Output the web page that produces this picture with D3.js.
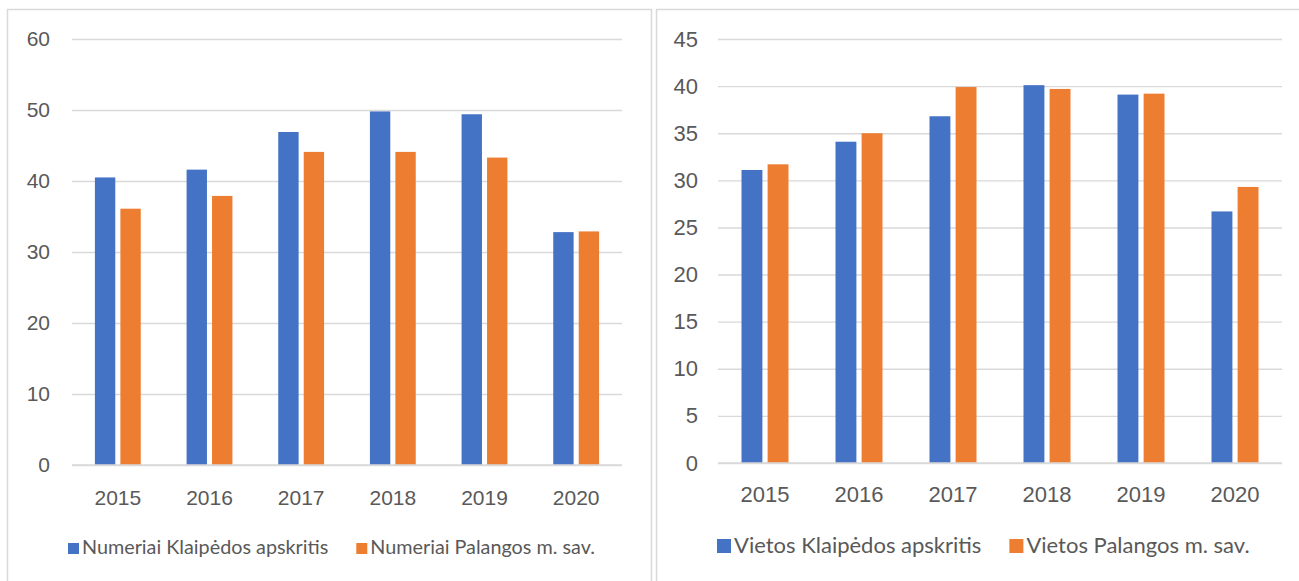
<!DOCTYPE html>
<html>
<head>
<meta charset="utf-8">
<script src="https://cdn.jsdelivr.net/npm/d3@7"></script>
<style>
  body { margin: 0; background: #fff; }
  svg { display: block; font-family: Lato, "Open Sans", sans-serif; }
  .tick text { fill: #595959; }
  .legend text { fill: #595959; }
</style>
</head>
<body>
<svg width="1299" height="581"></svg>
<script>
const years = ['2015', '2016', '2017', '2018', '2019', '2020'];

const numeriaiKlaipeda = [40.5, 41.6, 46.9, 49.8, 49.4, 32.8];
const numeriaiPalanga = [36.1, 37.9, 44.1, 44.1, 43.3, 32.9];
const vietosKlaipeda = [31.1, 34.1, 36.8, 40.1, 39.1, 26.7];
const vietosPalanga = [31.7, 35.0, 39.9, 39.7, 39.2, 29.3];

const leftTicks = [0, 10, 20, 30, 40, 50, 60];
const rightTicks = [0, 5, 10, 15, 20, 25, 30, 35, 40, 45];

const leftNames = ['Numeriai Klaipėdos apskritis', 'Numeriai Palangos m. sav.'];
const rightNames = ['Vietos Klaipėdos apskritis', 'Vietos Palangos m. sav.'];

const colors = ['#4472C4', '#ED7D31'];

const svg = d3.select('svg');

// panel frames
svg.append('rect')
    .attr('x', 7.5).attr('y', 9.5)
    .attr('width', 644).attr('height', 600)
    .attr('fill', 'none').attr('stroke', '#d9d9d9').attr('stroke-width', 1.5);
svg.append('rect')
    .attr('x', 656.5).attr('y', 9.5)
    .attr('width', 650).attr('height', 600)
    .attr('fill', 'none').attr('stroke', '#d9d9d9').attr('stroke-width', 1.5);

function drawChart(opt) {
    const g = svg.append('g');

    const xScale = d3.scaleBand()
        .domain(years)
        .range([opt.x0, opt.x1])
        .paddingInner(0.5)
        .paddingOuter(0.25);

    const xSub = d3.scaleBand()
        .domain([0, 1])
        .range([0, xScale.bandwidth()])
        .paddingInner(0.2);

    const yScale = d3.scaleLinear()
        .domain([0, d3.max(opt.ticks)])
        .range([opt.y0, opt.y1]);

    const yAxis = d3.axisLeft(yScale)
        .tickValues(opt.ticks)
        .tickSize(-(opt.x1 - opt.x0))
        .tickPadding(opt.yPad);

    const yAxisG = g.append('g')
        .attr('transform', `translate(${opt.x0},0)`)
        .call(yAxis);
    yAxisG.select('.domain').remove();
    yAxisG.selectAll('.tick line')
        .attr('stroke', '#d9d9d9')
        .attr('stroke-width', 1.4);
    yAxisG.selectAll('.tick text')
        .attr('font-size', opt.fontSize);

    const xAxis = d3.axisBottom(xScale)
        .tickSize(0)
        .tickPadding(opt.xPad);

    const xAxisG = g.append('g')
        .attr('transform', `translate(0,${opt.y0})`)
        .call(xAxis);
    xAxisG.select('.domain').remove();
    xAxisG.selectAll('.tick text')
        .attr('font-size', opt.fontSize);

    const rows = years.map((y, i) => ({ year: y, values: [opt.a[i], opt.b[i]] }));

    const groups = g.selectAll('.year').data(rows)
        .enter().append('g')
        .attr('class', 'year')
        .attr('transform', d => `translate(${xScale(d.year)},0)`);

    groups.selectAll('rect')
        .data(d => d.values.map((v, k) => ({ k: k, v: v })))
        .enter().append('rect')
        .attr('x', d => xSub(d.k))
        .attr('width', xSub.bandwidth())
        .attr('y', d => yScale(d.v))
        .attr('height', d => opt.y0 - yScale(d.v))
        .attr('fill', d => colors[d.k]);

    // baseline over the bars
    g.append('line')
        .attr('x1', opt.x0).attr('x2', opt.x1)
        .attr('y1', opt.y0).attr('y2', opt.y0)
        .attr('stroke', '#d9d9d9').attr('stroke-width', 1.4);

    // legend
    const legend = g.append('g').attr('class', 'legend');
    let lx = opt.legendX;
    opt.names.forEach((name, k) => {
        legend.append('rect')
            .attr('x', lx).attr('y', opt.legendY - opt.box)
            .attr('width', opt.box).attr('height', opt.box)
            .attr('fill', colors[k]);
        const t = legend.append('text')
            .attr('x', lx + opt.box + 3)
            .attr('y', opt.legendY)
            .attr('font-size', opt.legendSize)
            .text(name);
        lx += opt.box + 3 + t.node().getComputedTextLength() + 28;
    });
}

drawChart({
    x0: 72, x1: 622, y0: 465, y1: 39,
    ticks: leftTicks, a: numeriaiKlaipeda, b: numeriaiPalanga,
    names: leftNames, fontSize: 21, yPad: 22, xPad: 25,
    legendX: 68, legendY: 554, box: 11, legendSize: 19.8
});

drawChart({
    x0: 718, x1: 1282, y0: 463, y1: 39,
    ticks: rightTicks, a: vietosKlaipeda, b: vietosPalanga,
    names: rightNames, fontSize: 22, yPad: 20, xPad: 23.5,
    legendX: 717, legendY: 553, box: 14, legendSize: 22
});
</script>
</body>
</html>
